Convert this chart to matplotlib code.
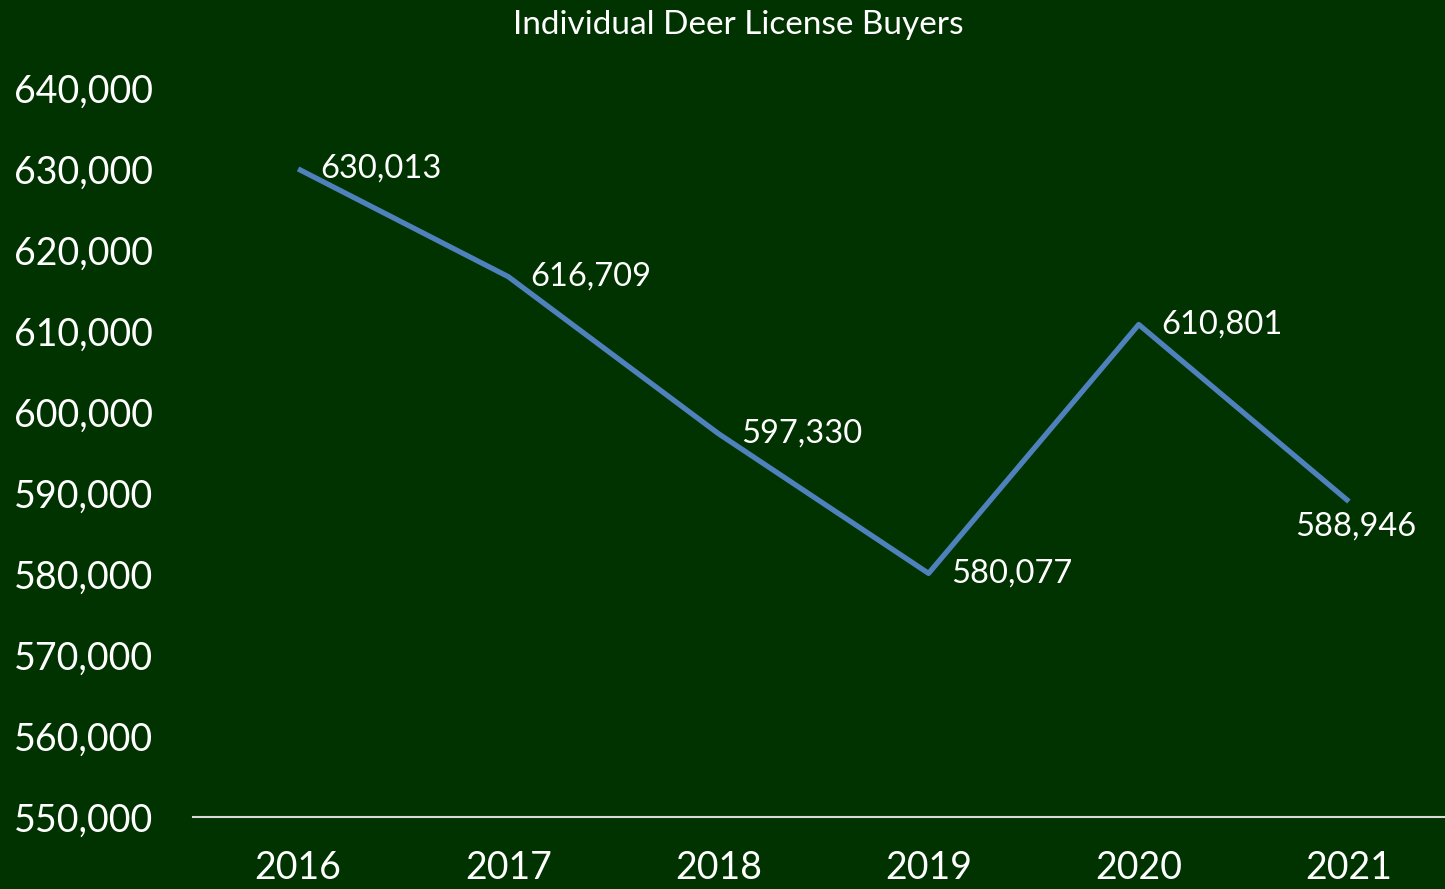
import matplotlib.pyplot as plt
from matplotlib.ticker import FuncFormatter

# Individual deer license buyers by year
years = ['2016', '2017', '2018', '2019', '2020', '2021']
buyers = [630013, 616709, 597330, 580077, 610801, 588946]
y_ticks = list(range(550000, 640001, 10000))

bg = '#003300'
line_color = '#4F81BD'

plt.rcParams['font.family'] = ['Lato', 'DejaVu Sans']

fig = plt.figure(figsize=(14.45, 8.89), dpi=100, facecolor=bg)
ax = fig.add_axes([193 / 1445, 1 - 817 / 889, 1261 / 1445, 729 / 889])
ax.set_facecolor(bg)

x = range(len(years))
ax.plot(x, buyers, color=line_color, linewidth=3.8, solid_capstyle='butt')

# value labels to the right of each point, last one below
for i, v in enumerate(buyers):
    txt = f'{v:,}'
    if i == len(buyers) - 1:
        ax.annotate(txt, (i, v), xytext=(5, -18), textcoords='offset points',
                    ha='center', va='center', color='white', fontsize=23.5)
    else:
        ax.annotate(txt, (i, v), xytext=(16, 0), textcoords='offset points',
                    ha='left', va='center', color='white', fontsize=23.5)

ax.set_xlim(-0.5, 5.5)
ax.set_ylim(550000, 640000)
ax.set_xticks(list(x))
ax.set_xticklabels(years)
ax.set_yticks(y_ticks)
ax.yaxis.set_major_formatter(FuncFormatter(lambda v, p: f'{int(v):,}'))

ax.tick_params(axis='both', length=0, colors='white', labelsize=27)
ax.tick_params(axis='y', pad=29)
ax.tick_params(axis='x', pad=24)

for side in ['top', 'right', 'left']:
    ax.spines[side].set_visible(False)
ax.spines['bottom'].set_color('#d9d9d9')
ax.spines['bottom'].set_linewidth(1.5)

fig.text(738 / 1445, 1 - 25 / 889, 'Individual Deer License Buyers',
         ha='center', va='center', color='white', fontsize=24)

fig.savefig('out.png', dpi=100, facecolor=bg)
